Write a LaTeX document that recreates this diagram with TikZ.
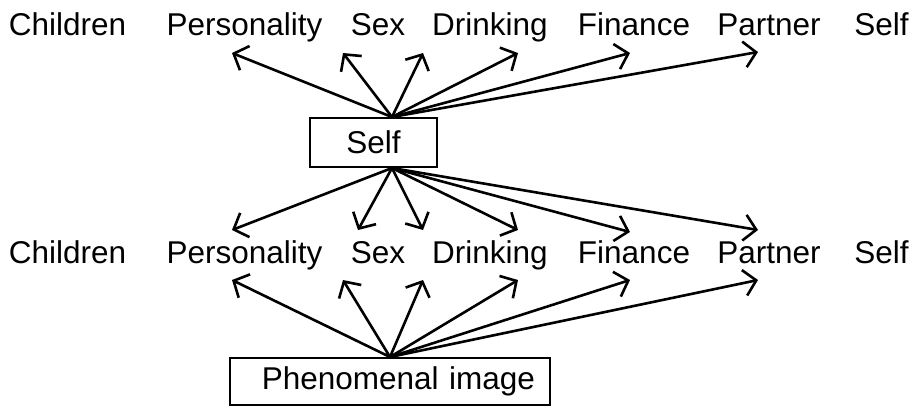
\documentclass[tikz,border=0pt]{standalone}
\usepackage{fontspec}
\setmainfont{Liberation Sans}
\usetikzlibrary{arrows.meta}

\begin{document}
\begin{tikzpicture}[x=1pt,y=-1pt,line width=2.6pt,
	lbl/.style={anchor=base,inner sep=0pt,font=\fontsize{31.5}{36}\selectfont},
	box/.style={draw,line width=1.5pt,inner sep=0pt,font=\fontsize{31.5}{36}\selectfont},
	arr/.style={-{Straight Barb[length=12pt,width=26pt]}}]
				\useasboundingbox (0, 0) rectangle (912, 407);
				
				% upper row
				\node[lbl] (children1) at (67.5, 35) {Children};
				\node[lbl] (personality1) at (244.5, 35) {Personality};
				\node[lbl] (sex1) at (378, 35) {Sex};
				\node[lbl] (drinking1) at (490, 35) {Drinking};
				\node[lbl] (finance1) at (634, 35) {Finance};
				\node[lbl] (partner1) at (769, 35) {Partner};
				\node[lbl] (self1) at (881.5, 35) {Self};
				
				% middle row
				\node[lbl] (children2) at (67.5, 263) {Children};
				\node[lbl] (personality2) at (244.5, 263) {Personality};
				\node[lbl] (sex2) at (378, 263) {Sex};
				\node[lbl] (drinking2) at (490, 263) {Drinking};
				\node[lbl] (finance2) at (634, 263) {Finance};
				\node[lbl] (partner2) at (769, 263) {Partner};
				\node[lbl] (self2) at (881.5, 263) {Self};
				
				\node[box, minimum width=127pt, minimum height=49pt] (selfbox) at (373.5, 142.5) {Self};
				\node[box, minimum width=320pt, minimum height=47pt, text width=290pt, align=right] (image) at (390, 381.5) {Phenomenal image};
				
				\coordinate (selfN) at (392, 117);
				\coordinate (selfS) at (392, 168);
				\coordinate (imageN) at (390, 357);
				
				% tips above the upper row
				\coordinate (a1) at (232, 53);\coordinate (a2) at (343, 53);\coordinate (a3) at (423, 53);
				\coordinate (a4) at (518, 53);\coordinate (a5) at (630, 53);\coordinate (a6) at (758, 52);
				% tips above the middle row
				\coordinate (b1) at (232, 230);\coordinate (b2) at (358, 230);\coordinate (b3) at (423, 230);
				\coordinate (b4) at (518, 230);\coordinate (b5) at (630, 232);\coordinate (b6) at (758, 230);
				% tips below the middle row
				\coordinate (c1) at (232, 280);\coordinate (c2) at (343, 280);\coordinate (c3) at (423, 280);
				\coordinate (c4) at (518, 280);\coordinate (c5) at (630, 280);\coordinate (c6) at (758, 280);
				
				\draw [arr] (selfN) -- (a1);
				\draw [arr] (selfN) -- (a2);
				\draw [arr] (selfN) -- (a3);
				\draw [arr] (selfN) -- (a4);
				\draw [arr] (selfN) -- (a5);
				\draw [arr] (selfN) -- (a6);
				
				\draw [arr] (selfS) -- (b1);
				\draw [arr] (selfS) -- (b2);
				\draw [arr] (selfS) -- (b3);
				\draw [arr] (selfS) -- (b4);
				\draw [arr] (selfS) -- (b5);
				\draw [arr] (selfS) -- (b6);
				
				\draw [arr] (imageN) -- (c1);
				\draw [arr] (imageN) -- (c2);
				\draw [arr] (imageN) -- (c3);
				\draw [arr] (imageN) -- (c4);
				\draw [arr] (imageN) -- (c5);
				\draw [arr] (imageN) -- (c6);
			\end{tikzpicture}
\end{document}
